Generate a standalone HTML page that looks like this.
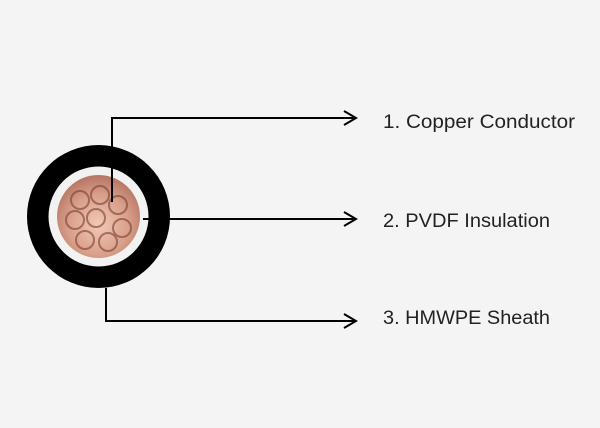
<!DOCTYPE html>
<html><head><style>body{margin:0;background:#f4f4f4}</style></head><body>
<svg width="600" height="428" viewBox="0 0 600 428" xmlns="http://www.w3.org/2000/svg" style="display:block">
<defs>
<radialGradient id="cu" cx="0.5" cy="0.6" r="0.6">
<stop offset="0" stop-color="#f2c9b6"/><stop offset="0.6" stop-color="#d9a08a"/><stop offset="1" stop-color="#b57563"/>
</radialGradient>
</defs>
<rect width="600" height="428" fill="#f4f4f4"/>
<circle cx="98.500" cy="216.500" r="71.500" fill="#000"/>
<circle cx="98.500" cy="216.500" r="50" fill="#f2f2f2"/>
<circle cx="98.500" cy="216.500" r="41.500" fill="url(#cu)"/>
<g fill="none" stroke="#7a3e34" stroke-width="2" opacity="0.6">
<circle cx="80" cy="200" r="9"/><circle cx="100" cy="195" r="9"/><circle cx="118" cy="205" r="9"/>
<circle cx="75" cy="220" r="9"/><circle cx="122" cy="228" r="9"/><circle cx="85" cy="240" r="9"/>
<circle cx="108" cy="242" r="9"/><circle cx="96" cy="218" r="9"/>
</g>
<g stroke="#000" stroke-width="2" fill="none">
<polyline points="112,202 112,118 356,118"/>
<line x1="143" y1="219" x2="356" y2="219"/>
<polyline points="106,288 106,321 356,321"/>
<polyline points="344,111 356,118 344,125"/>
<polyline points="344,212 356,219 344,226"/>
<polyline points="344,314 356,321 344,328"/>
</g>
<g font-family="Liberation Sans, sans-serif" font-size="19" fill="#222">
<text x="383" y="128" textLength="192" lengthAdjust="spacingAndGlyphs">1. Copper Conductor</text>
<text x="383" y="227" textLength="167" lengthAdjust="spacingAndGlyphs">2. PVDF Insulation</text>
<text x="383" y="324" textLength="167" lengthAdjust="spacingAndGlyphs">3. HMWPE Sheath</text>
</g>
</svg>
</body></html>
